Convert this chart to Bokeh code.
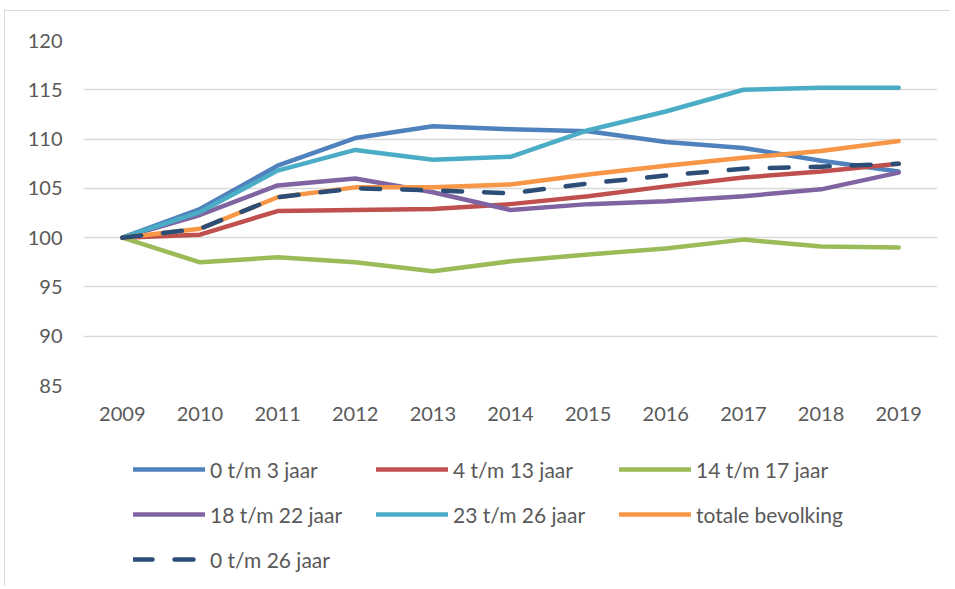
from bokeh.plotting import figure
from bokeh.models import Legend, LegendItem, FixedTicker, Range1d
from bokeh.layouts import column
from bokeh.embed import file_html
from bokeh.resources import INLINE

years = [2009, 2010, 2011, 2012, 2013, 2014, 2015, 2016, 2017, 2018, 2019]
s_0_3 = [100, 102.9, 107.3, 110.1, 111.3, 111.0, 110.8, 109.7, 109.1, 107.8, 106.7]
s_4_13 = [100, 100.3, 102.7, 102.8, 102.9, 103.4, 104.2, 105.2, 106.1, 106.7, 107.5]
s_14_17 = [100, 97.5, 98.0, 97.5, 96.6, 97.6, 98.3, 98.9, 99.8, 99.1, 99.0]
s_18_22 = [100, 102.3, 105.3, 106.0, 104.6, 102.8, 103.4, 103.7, 104.2, 104.9, 106.6]
s_23_26 = [100, 102.6, 106.8, 108.9, 107.9, 108.2, 110.9, 112.8, 115.0, 115.2, 115.2]
s_totaal = [100, 100.9, 104.1, 105.1, 105.1, 105.4, 106.4, 107.3, 108.1, 108.8, 109.8]
s_0_26 = [100, 100.9, 104.1, 105.0, 104.8, 104.5, 105.5, 106.3, 107.0, 107.2, 107.5]

labels = ["0 t/m 3 jaar", "4 t/m 13 jaar", "14 t/m 17 jaar", "18 t/m 22 jaar",
          "23 t/m 26 jaar", "totale bevolking", "0 t/m 26 jaar"]
y_ticks = [85, 90, 95, 100, 105, 110, 115, 120]

FONT = "Lato"
TXT = "#595959"
GRID = "#d9d9d9"

W = 945
H1 = 429
p = figure(width=W, height=H1, output_backend="svg", toolbar_location=None,
           x_range=Range1d(2008.5, 2019.5), y_range=Range1d(85, 120),
           min_border_left=78, min_border_right=13, min_border_top=29,
           min_border_bottom=H1 - 29 - 345)
p.outline_line_color = None
p.xgrid.visible = False
p.ygrid.grid_line_color = GRID
p.ygrid.grid_line_width = 1.3
p.ygrid.ticker = FixedTicker(ticks=y_ticks)

p.yaxis.ticker = FixedTicker(ticks=y_ticks)
p.xaxis.ticker = FixedTicker(ticks=years)
for ax in (p.xaxis[0], p.yaxis[0]):
    ax.axis_line_color = None
    ax.major_tick_line_color = None
    ax.minor_tick_line_color = None
    ax.major_tick_out = 0
    ax.major_tick_in = 0
    ax.major_label_text_font = FONT
    ax.major_label_text_font_size = "20px"
    ax.major_label_text_color = TXT
p.yaxis.major_label_standoff = 21
p.xaxis.major_label_standoff = 21

series = [s_0_3, s_4_13, s_14_17, s_18_22, s_23_26, s_totaal, s_0_26]
colors = ["#4F81BD", "#C0504D", "#9BBB59", "#8064A2", "#4BACC6", "#F79646", "#2C4D75"]


def style(i, c):
    kw = dict(line_width=4.5, line_color=c, line_cap="round", line_join="round")
    if i == 6:
        kw["line_dash"] = "19 22"
    return kw


for i, (s, c) in enumerate(zip(series, colors)):
    p.line(years, s, **style(i, c))

# legend panel (separate figure so the legend is not clipped)
H2 = 146
p2 = figure(width=W, height=H2, output_backend="svg", toolbar_location=None,
            x_range=Range1d(0, 1), y_range=Range1d(0, 1),
            x_axis_location=None, y_axis_location=None,
            min_border_left=0, min_border_right=0, min_border_top=0, min_border_bottom=0)
p2.outline_line_color = None
p2.grid.visible = False
# off-screen proxies that only carry the legend styles
legend_renderers = [p2.line([-10, -9], [-10, -9], **style(i, c)) for i, c in enumerate(colors)]

leg = Legend(items=[LegendItem(label=labels[k], renderers=[legend_renderers[k]]) for k in range(7)],
             location=(50, 5), orientation="horizontal", ncols=3,
             glyph_width=72, glyph_height=44, label_height=44, label_width=165,
             label_standoff=5, spacing=1, padding=0, margin=0,
             border_line_alpha=0, background_fill_alpha=0,
             label_text_font=FONT, label_text_font_size="21px", label_text_color=TXT)
p2.add_layout(leg, "center")

layout = column(p, p2, spacing=0,
                styles={"border-top": "1px solid #d9d9d9", "border-left": "1px solid #d9d9d9",
                        "margin-top": "10px", "margin-left": "4px"})

open("out.html", "w").write(file_html(layout, INLINE))
